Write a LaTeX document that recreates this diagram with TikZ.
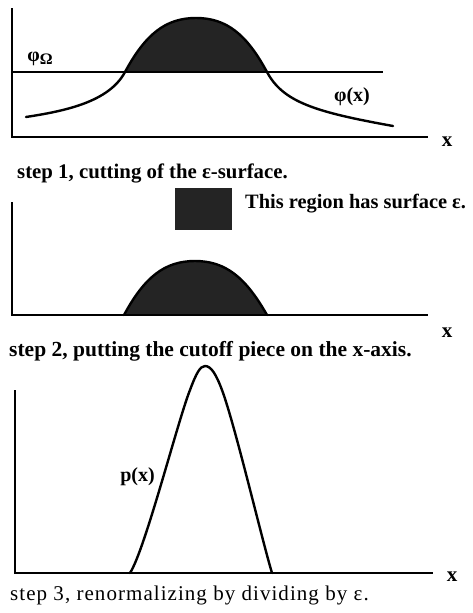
\documentclass[tikz,border=0pt]{standalone}
\usepackage{fontspec}
\setmainfont{Liberation Serif}
\newfontfamily\spacedserif[LetterSpace=5]{Liberation Serif}
\begin{document}
\begin{tikzpicture}[x=1pt,y=-1pt,
  axis/.style={line width=1.4pt},
  curve/.style={line width=2.4pt,line join=round,line cap=round},
  blob/.style={fill=black!86},
  lbl/.style={inner sep=0pt,font=\fontsize{20}{22}\selectfont\bfseries},
  xlbl/.style={inner sep=0pt,anchor=base,font=\fontsize{21}{24}\selectfont\bfseries},
  captxt/.style={inner sep=0pt,anchor=base west,font=\fontsize{20.8}{24}\selectfont\bfseries},
  captxtr/.style={inner sep=0pt,anchor=base west,font=\fontsize{21}{24}\selectfont\spacedserif}]
\useasboundingbox (0,0) rectangle (472,613);
% ---------- panel 1 ----------
\coordinate (y1t) at (12,8);
\coordinate (o1) at (12,137);
\coordinate (x1e) at (428,137);
\coordinate (l1s) at (12,72);
\coordinate (l1e) at (383,72);
\fill[blob] (125,72) .. controls (145,35) and (165,18) .. (196,18) .. controls (227,18) and (247,35) .. (267,72) -- cycle;
\draw[axis] (y1t) -- (o1) -- (x1e);
\draw[axis] (l1s) -- (l1e);
\draw[curve] (26,117) .. controls (65,111) and (109,102) .. (125,72)
  .. controls (145,35) and (165,18) .. (196,18)
  .. controls (227,18) and (247,35) .. (267,72)
  .. controls (283,102) and (315,112) .. (393,126);
\node[lbl] (phiO) at (40,59) {φ\raisebox{-0.3ex}{\fontsize{16}{18}\selectfont Ω}};
\node[lbl] (phix) at (352,97) {φ(x)};
\node[xlbl] (x1) at (447,146) {x};
\node[captxt] (c1) at (17,178) {step 1, cutting of the ε-surface.};
% ---------- panel 2 ----------
\node[blob,minimum width=57pt,minimum height=42pt,inner sep=0pt,anchor=north west] (box) at (175,188) {};
\node[lbl,anchor=base west,font=\fontsize{20.4}{24}\selectfont\bfseries] (reg) at (245,208) {This region has surface ε.};
\coordinate (y2t) at (12,202);
\coordinate (o2) at (12,315);
\coordinate (x2e) at (428,315);
\fill[blob] (124,315) .. controls (144,278) and (164,261) .. (195,261) .. controls (226,261) and (246,278) .. (267,315) -- cycle;
\draw[curve] (124,315) .. controls (144,278) and (164,261) .. (195,261) .. controls (226,261) and (246,278) .. (267,315);
\draw[axis] (y2t) -- (o2) -- (x2e);
\node[xlbl] (x2) at (447,337) {x};
\node[captxt,font=\fontsize{21.5}{24}\selectfont\bfseries] (c2) at (9,356) {step 2, putting the cutoff piece on the x-axis.};
% ---------- panel 3 ----------
\coordinate (y3t) at (15,390);
\coordinate (o3) at (15,573);
\coordinate (x3e) at (433,573);
\draw[axis] (y3t) -- (o3) -- (x3e);
\draw[curve] (130,573) .. controls (145,550) and (178,420) .. (190,390)
  .. controls (196,374) and (200,366) .. (205,366)
  .. controls (211,366) and (216,374) .. (222,390)
  .. controls (235,425) and (262,540) .. (272,573);
\node[lbl,anchor=east] (px) at (155,477) {p(x)};
\node[xlbl] (x3) at (452,581) {x};
\node[captxtr] (c3) at (10,600) {step 3, renormalizing by dividing by ε.};
\end{tikzpicture}
\end{document}
